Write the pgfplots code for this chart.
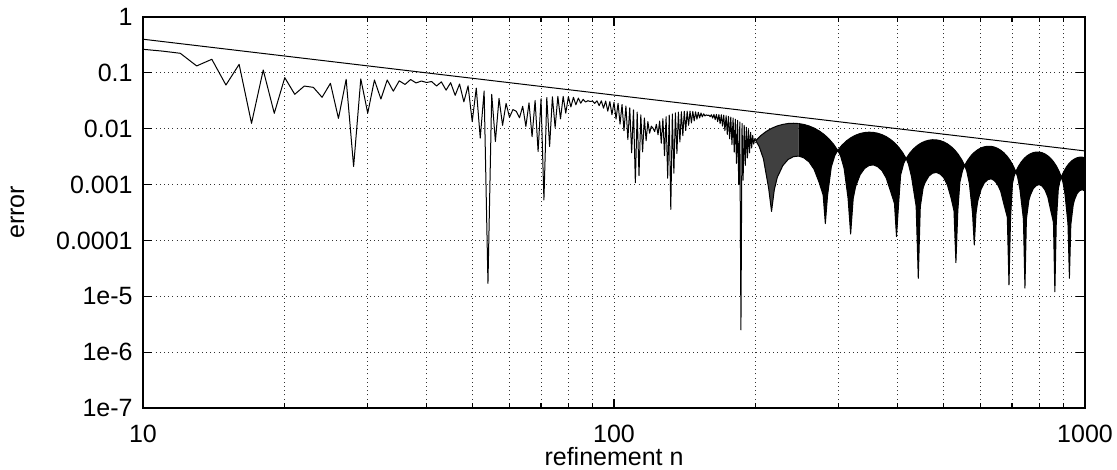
\documentclass[border=0pt]{standalone}
\usepackage{fontspec}
\setmainfont{Liberation Sans}
\usepackage{pgfplots}
\pgfplotsset{compat=1.18}
\usepgfplotslibrary{fillbetween}

\begin{document}
\begin{tikzpicture}
\begin{axis}[
  scale only axis, width=471pt, height=195.5pt,
  xmode=log, ymode=log,
  xmin=10, xmax=1000, ymin=1e-7, ymax=1,
  xtick={10,100,1000}, xticklabels={10,100,1000},
  minor xtick={20,30,40,50,60,70,80,90,200,300,400,500,600,700,800,900},
  ytick={1e-7,1e-6,1e-5,1e-4,1e-3,1e-2,1e-1,1},
  yticklabels={1e-7,1e-6,1e-5,0.0001,0.001,0.01,0.1,1},
  yminorticks=false,
  xmajorgrids, xminorgrids, ymajorgrids,
  major grid style={black!80, line width=0.45pt, dash pattern=on 0.5pt off 1.6pt},
  minor grid style={black!80, line width=0.45pt, dash pattern=on 0.5pt off 1.6pt},
  axis line style={line width=0.8pt},
  tick style={black, line width=0.6pt},
  major tick length=4.5pt, minor tick length=2.5pt,
  tick label style={font=\fontsize{12.5}{14}\selectfont},
  xticklabel style={inner sep=0pt, yshift=-8.5pt},
  yticklabel style={inner sep=0pt, xshift=-5pt},
  xlabel={refinement n}, ylabel={error},
  label style={font=\fontsize{12.5}{14}\selectfont},
  xlabel style={at={(axis description cs:0.5,-0.099)}, anchor=north, inner sep=0pt},
  ylabel style={at={(axis description cs:-0.1332,0.5)}, anchor=center, inner sep=0pt},
]
\coordinate (bl) at (rel axis cs:0,0);

% reference slope
\addplot[black, line width=0.5pt] coordinates {(10,0.4) (1000,0.004)};

% error, one point per refinement level up to n=200
\addplot[black, line width=0.5pt, line join=round] coordinates {
(10,0.264)(11,0.245)(12,0.224)(13,0.133)(14,0.175)(15,0.0606)(16,0.142)(17,0.0125)(18,0.1125)(19,0.0189)
(20,0.082)(21,0.0413)(22,0.058)(23,0.055)(24,0.0365)(25,0.065)(26,0.0153)(27,0.0766)(28,0.0021)(29,0.078)
(30,0.019)(31,0.0745)(32,0.034)(33,0.0745)(34,0.047)(35,0.072)(36,0.062)(37,0.076)(38,0.066)(39,0.0714)
(40,0.0672)(41,0.0699)(42,0.0582)(43,0.069)(44,0.049)(45,0.0667)(46,0.0396)(47,0.0631)(48,0.0303)(49,0.0585)
(50,0.0134)(51,0.0533)(52,0.0068)(53,0.0474)(54,0.000017)(55,0.0413)(56,0.0059)(57,0.0349)(58,0.0115)(59,0.0284)
(60,0.016)(61,0.022)(62,0.0206)(63,0.0157)(64,0.0252)(65,0.011)(66,0.0289)(67,0.0072)(68,0.032)(69,0.0039)
(70,0.0344)(71,0.00053)(72,0.0362)(73,0.0048)(74,0.0373)(75,0.0105)(76,0.0379)(77,0.015)(78,0.0379)(79,0.019)
(80,0.0374)(81,0.0246)(82,0.0365)(83,0.0268)(84,0.0353)(85,0.0286)(86,0.0336)(87,0.030)(88,0.0317)(89,0.0307)
(90,0.0312)(91,0.0284)(92,0.0316)(93,0.0259)(94,0.0316)(95,0.0233)(96,0.0312)(97,0.0206)(98,0.0306)(99,0.0178)
(100,0.0296)(101,0.0149)(102,0.0285)(103,0.0121)(104,0.0271)(105,0.0092)(106,0.0255)(107,0.0064)(108,0.0237)(109,0.0037)
(110,0.0218)(111,0.00108)(112,0.0198)(113,0.00145)(114,0.0177)(115,0.00385)(116,0.0156)(117,0.0061)(118,0.0134)(119,0.0083)
(120,0.0111)(121,0.0102)(122,0.0089)(123,0.012)(124,0.0078)(125,0.0137)(126,0.0055)(127,0.0151)(128,0.0033)(129,0.0164)
(130,0.0013)(131,0.0175)(132,0.00036)(133,0.0184)(134,0.0016)(135,0.0192)(136,0.0036)(137,0.0198)(138,0.0058)(139,0.0202)
(140,0.0075)(141,0.0205)(142,0.0093)(143,0.0206)(144,0.0115)(145,0.0206)(146,0.0127)(147,0.0204)(148,0.0138)(149,0.0201)
(150,0.0148)(151,0.0197)(152,0.0156)(153,0.0191)(154,0.0163)(155,0.0185)(156,0.0169)(157,0.0177)(158,0.0173)(159,0.0175)
(160,0.0164)(161,0.0178)(162,0.0155)(163,0.018)(164,0.0145)(165,0.018)(166,0.0134)(167,0.0179)(168,0.0123)(169,0.0178)
(170,0.0111)(171,0.0175)(172,0.0092)(173,0.0171)(174,0.0079)(175,0.0166)(176,0.0066)(177,0.0161)(178,0.0052)(179,0.0155)
(180,0.0038)(181,0.0148)(182,0.0024)(183,0.0141)(184,0.001)(185,0.0132)(186,0.0000025)(187,0.0124)(188,0.0012)(189,0.0115)
(190,0.0022)(191,0.0106)(192,0.003)(193,0.0096)(194,0.0037)(195,0.0086)(196,0.0045)(197,0.0076)(198,0.0053)(199,0.0066)
(200,0.0061)
};

% beyond n=200 the oscillation is too dense to resolve: upper and lower envelopes
\addplot[name path=U1, black, line width=0.5pt] coordinates {
(200,0.0061)(204.7,0.00748)(210.5,0.00895)(216.3,0.01021)(222.2,0.01123)(228.3,0.01196)(234.3,0.0124)(240.5,0.01253)(246.7,0.01236)
};
\addplot[name path=L1, black, line width=0.5pt, line join=round] coordinates {
(200,0.0061)(203.3,0.00482)(207.6,0.00289)(213,0.00085)(216,0.00033)(219,0.00082)(222.2,0.00135)(228.3,0.00219)(234.3,0.00282)(240.5,0.00316)(246.7,0.00324)
};
\addplot[name path=U2, black, line width=0.5pt] coordinates {
(246.7,0.01236)(253.1,0.01191)(259.5,0.0112)(265.9,0.01027)(272.5,0.00916)(279.2,0.00791)(285.9,0.00659)(292.7,0.00523)(298.6,0.00409)
(304.5,0.00503)(311.5,0.00605)(318.6,0.00693)(325.8,0.00766)(333.1,0.0082)(340.4,0.00854)(347.8,0.00867)(355.3,0.00858)
(362.9,0.00831)(370.6,0.00784)(378.3,0.00722)(386.1,0.00646)(394.0,0.00561)(402.0,0.00468)(410.1,0.00373)(417.0,0.00293)
(424.0,0.00361)(432.3,0.00436)(440.6,0.00501)(449.1,0.00556)(457.6,0.00597)(466.2,0.00623)(474.8,0.00635)(483.6,0.00631)
(492.4,0.00612)(501.4,0.0058)(510.4,0.00535)(519.4,0.0048)(528.6,0.00418)(537.8,0.0035)(547.1,0.0028)(555.2,0.0022)
(563.3,0.00272)(572.8,0.00329)(582.4,0.00379)(592.1,0.00421)(601.9,0.00454)(611.7,0.00475)(621.7,0.00485)(631.7,0.00483)
(641.8,0.0047)(651.9,0.00446)(662.2,0.00412)(672.5,0.00371)(682.9,0.00323)(693.4,0.00272)(704.0,0.00217)(713.1,0.00171)
(722.2,0.00212)(733.0,0.00257)(743.9,0.00297)(754.8,0.00331)(765.8,0.00356)(777.0,0.00374)(788.1,0.00382)(799.4,0.00382)
(810.8,0.00372)(822.2,0.00353)(833.7,0.00327)(845.3,0.00295)(857.0,0.00258)(868.7,0.00217)(880.5,0.00174)(890.7,0.00137)
(901.0,0.0017)(913.0,0.00206)(925.1,0.00239)(937.3,0.00266)(949.6,0.00287)(962.0,0.00302)(974.4,0.00309)(987.0,0.00309)(1000,0.00301)
};
\addplot[name path=L2, black, line width=0.5pt, line join=round] coordinates {
(246.7,0.00324)(253.1,0.003)(259.5,0.00254)(265.9,0.00188)(272.5,0.0011)(278,0.00065)(281,0.0002)(284,0.00063)(289.3,0.00207)(294.4,0.00333)(298.6,0.00409)
(302.8,0.00324)(308.0,0.00195)(314,0.00057)(318,0.00013)(322,0.00056)(325.8,0.00092)(333.1,0.0015)(340.4,0.00194)(347.8,0.00219)(355.3,0.00225)
(362.9,0.00209)(370.6,0.00178)(378.3,0.00132)(386.1,0.00078)(394,0.00046)(398,0.000117)(402,0.00045)(406.0,0.00148)(412.1,0.00238)(417.0,0.00293)
(421.9,0.00232)(428.1,0.0014)(438,0.00041)(442.6,0.000021)(447,0.0004)(453.3,0.00088)(457.6,0.00109)(466.2,0.00142)(474.8,0.0016)(483.6,0.00165)
(492.4,0.00154)(501.4,0.00132)(510.4,0.00098)(519.4,0.00058)(527,0.00034)(532,0.00004)(537,0.00034)(542.5,0.00111)(549.5,0.00178)(555.2,0.0022)
(560.9,0.00175)(568.0,0.00106)(577,0.00031)(582,0.000083)(587,0.00031)(592.1,0.00051)(601.9,0.00083)(611.7,0.00108)(621.7,0.00122)(631.7,0.00127)
(641.8,0.00118)(651.9,0.00101)(662.2,0.00076)(672.5,0.00045)(684,0.00026)(689.6,0.000016)(695,0.00026)(701.4,0.00104)(706.7,0.00139)(713.1,0.00171)
(719.5,0.00136)(727.6,0.00082)(740,0.00024)(745.6,0.000014)(751,0.00024)(760.3,0.00053)(765.8,0.00065)(777.0,0.00085)(788.1,0.00096)(799.4,0.001)
(810.8,0.00094)(822.2,0.0008)(833.7,0.0006)(845.3,0.00035)(857,0.00021)(863,0.000012)(869,0.00021)(877.6,0.00083)(883.5,0.00111)(890.7,0.00137)
(898.0,0.00109)(907.0,0.00066)(920,0.0002)(926.6,0.000021)(933,0.00019)(943.5,0.00042)(949.6,0.00053)(962.0,0.00069)(974.4,0.00078)(987.0,0.00081)(1000,0.00076)
};
\addplot[black!75] fill between[of=U1 and L1];
\addplot[black] fill between[of=U2 and L2];
\end{axis}
\pgfresetboundingbox
\path ([xshift=-71.5pt,yshift=-31pt]bl) rectangle ([xshift=487pt,yshift=204pt]bl);
\end{tikzpicture}
\end{document}
